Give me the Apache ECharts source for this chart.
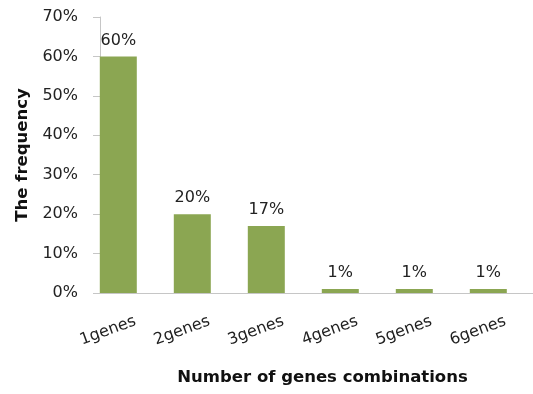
<!DOCTYPE html>
<html>
<head>
<meta charset="utf-8">
<script src="https://cdn.jsdelivr.net/npm/echarts@6/dist/echarts.min.js"></script>
<style>
  html, body { margin: 0; padding: 0; background: #fff; }
  #chart { width: 533px; height: 394px; }
</style>
</head>
<body>
<div id="chart"></div>
<script>
// Share of samples by how many genes are combined
const categories = ['1genes', '2genes', '3genes', '4genes', '5genes', '6genes'];
const frequency = [60, 20, 17, 1, 1, 1];
const yTicks = [0, 10, 20, 30, 40, 50, 60, 70];

const FONT = 'DejaVu Sans';
const barColor = '#8ba652';
const axisGray = '#c6c6c6';

const chart = echarts.init(document.getElementById('chart'), null, { renderer: 'canvas' });

chart.setOption({
  animation: false,
  grid: { left: 100, right: 0, top: 17, bottom: 101, containLabel: false },
  xAxis: {
    type: 'value',
    // one unit per category; the band starts a little left of the first bar
    min: -0.2473,
    max: 5.604,
    name: 'Number of genes combinations',
    nameLocation: 'middle',
    nameGap: 76,
    nameTextStyle: {
      fontFamily: FONT, fontSize: 16.5, fontWeight: 'bold', color: '#111',
      padding: [0, 0, 0, 12]
    },
    splitLine: { show: false },
    axisTick: { show: false },
    axisLine: { onZero: false, lineStyle: { color: axisGray, width: 1 } },
    axisLabel: {
      customValues: categories.map((c, i) => i),
      formatter: (v) => categories[Math.round(v)] || '',
      rotate: 20,
      align: 'center',
      verticalAlign: 'middle',
      margin: 34,
      padding: [0, 22, 0, 0],
      fontFamily: FONT, fontSize: 16, color: '#222'
    }
  },
  yAxis: {
    type: 'value',
    min: yTicks[0],
    max: yTicks[yTicks.length - 1],
    interval: 10,
    name: 'The frequency',
    nameLocation: 'middle',
    nameGap: 66,
    nameTextStyle: { fontFamily: FONT, fontSize: 16.5, fontWeight: 'bold', color: '#111' },
    splitLine: { show: false },
    axisLine: { show: true, onZero: false, lineStyle: { color: axisGray, width: 1 } },
    axisTick: { show: true, inside: false, length: 7, lineStyle: { color: axisGray } },
    axisLabel: {
      margin: 22,
      formatter: '{value}%',
      fontFamily: FONT, fontSize: 16, color: '#222'
    }
  },
  series: [{
    type: 'bar',
    barWidth: 37,
    data: frequency.map((v, i) => [i, v]),
    itemStyle: { color: barColor },
    label: {
      show: true,
      position: 'top',
      distance: 8,
      formatter: (p) => p.value[1] + '%',
      fontFamily: FONT, fontSize: 16, color: '#222'
    }
  }]
});
</script>
</body>
</html>
